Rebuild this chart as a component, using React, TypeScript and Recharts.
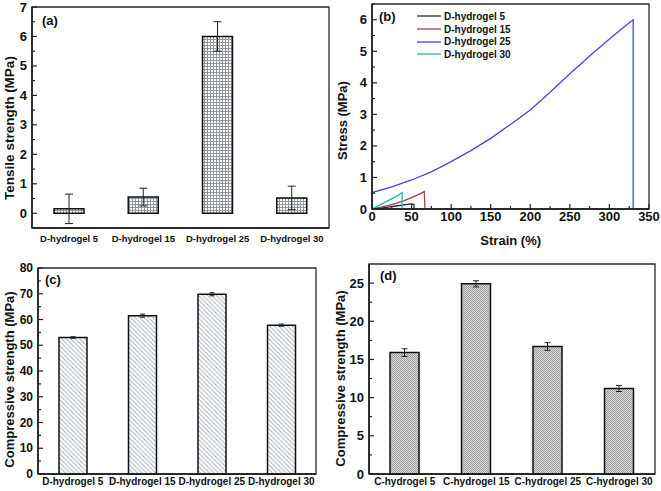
import React from 'react';
import { BarChart, Bar, LineChart, Line, XAxis, YAxis, ErrorBar, Legend, ReferenceArea } from 'recharts';

// categories
const dLabels = ['D-hydrogel 5', 'D-hydrogel 15', 'D-hydrogel 25', 'D-hydrogel 30'];
const cLabels = ['C-hydrogel 5', 'C-hydrogel 15', 'C-hydrogel 25', 'C-hydrogel 30'];

// (a) tensile strength
const tensile = [0.15, 0.55, 6.0, 0.52];
const tensileErr = [0.5, 0.3, 0.5, 0.4];
// (c) compressive strength, D-hydrogels
const compD = [53.0, 61.5, 69.8, 57.8];
const compDErr = [0.3, 0.6, 0.6, 0.4];
// (d) compressive strength, C-hydrogels
const compC = [15.9, 24.9, 16.7, 11.2];
const compCErr = [0.5, 0.4, 0.5, 0.4];

// (b) stress-strain curves
const strain5 = [0, 10, 20, 30, 40, 49, 53, 53];
const stress5 = [0, 0.03, 0.06, 0.095, 0.13, 0.16, 0.15, 0];
const strain15 = [0, 10, 20, 30, 40, 50, 60, 66, 67];
const stress15 = [0, 0.05, 0.11, 0.18, 0.26, 0.36, 0.47, 0.55, 0];
const strain25 = [0, 0, 25, 50, 75, 100, 125, 150, 175, 200, 225, 250, 275, 300, 320, 330, 330];
const stress25 = [0, 0.52, 0.7, 0.92, 1.18, 1.5, 1.85, 2.24, 2.68, 3.14, 3.7, 4.29, 4.85, 5.39, 5.8, 6.0, 0];
const strain30 = [0, 10, 20, 30, 38, 38];
const stress30 = [0, 0.13, 0.26, 0.39, 0.52, 0];

// tick values
const ticksA = [0, 0.5, 1, 1.5, 2, 2.5, 3, 3.5, 4, 4.5, 5, 5.5, 6, 6.5, 7];
const majorA = [0, 1, 2, 3, 4, 5, 6, 7];
const ticksBy = [0, 0.5, 1, 1.5, 2, 2.5, 3, 3.5, 4, 4.5, 5, 5.5, 6, 6.5];
const majorBy = [0, 1, 2, 3, 4, 5, 6];
const ticksBx = [0, 25, 50, 75, 100, 125, 150, 175, 200, 225, 250, 275, 300, 325, 350];
const majorBx = [0, 50, 100, 150, 200, 250, 300, 350];
const ticksC = [0, 5, 10, 15, 20, 25, 30, 35, 40, 45, 50, 55, 60, 65, 70, 75, 80];
const majorC = [0, 10, 20, 30, 40, 50, 60, 70, 80];
const ticksD = [0, 2.5, 5, 7.5, 10, 12.5, 15, 17.5, 20, 22.5, 25];
const majorD = [0, 5, 10, 15, 20, 25];

const zip = (xs: number[], ys: number[]) => xs.map((x, i) => ({ x, y: ys[i] }));
const bars = (names: string[], vals: number[], errs: number[]) =>
  names.map((name, i) => ({ name, value: vals[i], err: errs[i] }));

const dataA = bars(dLabels, tensile, tensileErr);
const dataC = bars(dLabels, compD, compDErr);
const dataD = bars(cLabels, compC, compCErr);

const curves = [
  { name: 'D-hydrogel 5', color: '#1e2540', data: zip(strain5, stress5) },
  { name: 'D-hydrogel 15', color: '#a3404f', data: zip(strain15, stress15) },
  { name: 'D-hydrogel 25', color: '#4545e6', data: zip(strain25, stress25) },
  { name: 'D-hydrogel 30', color: '#27b3a0', data: zip(strain30, stress30) },
];
const curveOrder = curves.map((c) => c.name);

const axisStyle = { stroke: '#1a1a1a', strokeWidth: 1.5 };
const bold = { fontWeight: 'bold' as const, fill: '#111' };

const leftTick = (major: number[], fontSize: number) => (props: any) => {
  const { x, y, payload } = props;
  const isMajor = major.includes(payload.value);
  return (
    <g>
      <line x1={x} x2={x + (isMajor ? 5 : 3)} y1={y} y2={y} stroke="#222" strokeWidth={1.2} />
      {isMajor && (
        <text x={x - 5} y={y} textAnchor="end" dominantBaseline="central" fontSize={fontSize} {...bold}>
          {payload.value}
        </text>
      )}
    </g>
  );
};

const bottomTick = (major: number[], fontSize: number) => (props: any) => {
  const { x, y, payload } = props;
  const isMajor = major.includes(payload.value);
  return (
    <g>
      <line x1={x} x2={x} y1={y} y2={y - (isMajor ? 5 : 3)} stroke="#222" strokeWidth={1.2} />
      {isMajor && (
        <text x={x} y={y + 3 + fontSize * 0.72} textAnchor="middle" fontSize={fontSize} {...bold}>
          {payload.value}
        </text>
      )}
    </g>
  );
};

const vTitle = (text: string, x: number, y: number, size: number) => (
  <text x={x} y={y} transform={`rotate(-90 ${x} ${y})`} textAnchor="middle" dominantBaseline="central" fontSize={size} {...bold}>
    {text}
  </text>
);

const panelTag = (text: string, x: number, y: number) => (
  <text x={x} y={y} fontSize={13} {...bold}>{text}</text>
);

const renderLegend = ({ payload }: any) => (
  <div>
    {(payload || []).map((p: any) => (
      <div key={p.value} style={{ display: 'flex', alignItems: 'center', height: 12.7, fontSize: 10, fontWeight: 'bold', color: '#111' }}>
        <svg width={24} height={4}>
          <line x1={0} y1={2} x2={24} y2={2} stroke={p.color} strokeWidth={1.3} />
        </svg>
        <span style={{ marginLeft: 3, whiteSpace: 'nowrap' }}>{p.value}</span>
      </div>
    ))}
  </div>
);

// plot frame drawn as a reference area spanning the whole value range
const frame = (y1: number, y2: number, x1?: number, x2?: number) => (
  <ReferenceArea x1={x1} x2={x2} y1={y1} y2={y2} fill="none" fillOpacity={0} stroke="#2a2a2a" strokeWidth={1.3}
    ifOverflow="visible" />
);

export default function App() {
  return (
    <div style={{ position: 'absolute', left: 0, top: 0, width: 661, height: 491, background: '#fff',
      fontFamily: '"Liberation Sans", Arial, sans-serif' }}>
      {/* (a) tensile strength */}
      <div style={{ position: 'absolute', left: 0, top: 0 }}>
        <BarChart width={330} height={250} data={dataA} margin={{ top: 7, right: 1, bottom: 0, left: 0 }} barSize={30}>
          <defs>
            <pattern id="gridA" patternUnits="userSpaceOnUse" width={3} height={3}>
              <rect width={3} height={3} fill="#fff" />
              <path d="M0 0.5H3M0.5 0V3" stroke="#8f959d" strokeWidth={1} />
            </pattern>
          </defs>
          {frame(-0.5, 7)}
          <XAxis dataKey="name" height={22} interval={0} tickLine={false} tickSize={0} tickMargin={7}
            axisLine={axisStyle} tick={{ fontSize: 9.5, ...bold }} />
          <YAxis width={32} type="number" domain={[-0.5, 7]} ticks={ticksA} interval={0} tickLine={false}
            tickSize={0} tickMargin={0} axisLine={axisStyle} tick={leftTick(majorA, 13)} />
          <Bar dataKey="value" fill="url(#gridA)" stroke="#111" strokeWidth={1.5} isAnimationActive={false}>
            <ErrorBar dataKey="err" width={4} stroke="#222" strokeWidth={1} isAnimationActive={false} />
          </Bar>
          {panelTag('(a)', 42, 25)}
          {vTitle('Tensile strength (MPa)', 9, 128, 13.5)}
        </BarChart>
      </div>

      {/* (b) stress-strain */}
      <div style={{ position: 'absolute', left: 330, top: 0 }}>
        <LineChart width={331} height={250} margin={{ top: 4, right: 12, bottom: 0, left: 0 }}>
          {frame(0, 6.5, 0, 350)}
          <XAxis dataKey="x" type="number" domain={[0, 350]} ticks={ticksBx} interval={0} height={41}
            tickLine={false} tickSize={0} tickMargin={0} axisLine={axisStyle} tick={bottomTick(majorBx, 13)} />
          <YAxis width={42} type="number" domain={[0, 6.5]} ticks={ticksBy} interval={0} tickLine={false}
            tickSize={0} tickMargin={0} axisLine={axisStyle} tick={leftTick(majorBy, 13)} />
          {curves.map((c) => (
            <Line key={c.name} name={c.name} data={c.data} dataKey="y" type="linear" stroke={c.color}
              strokeWidth={1.3} dot={false} isAnimationActive={false} />
          ))}
          <Legend layout="vertical" align="center" verticalAlign="middle" content={renderLegend}
            itemSorter={(item: any) => curveOrder.indexOf(item.value)}
            wrapperStyle={{ left: 87, top: 10, width: 120, height: 52 }} />
          {panelTag('(b)', 49, 21)}
          {vTitle('Stress (MPa)', 12.5, 120.5, 13)}
          <text x={180.7} y={244.5} textAnchor="middle" fontSize={13} {...bold}>Strain (%)</text>
        </LineChart>
      </div>

      {/* (c) compressive strength, D-hydrogels */}
      <div style={{ position: 'absolute', left: 0, top: 250 }}>
        <BarChart width={330} height={241} data={dataC} margin={{ top: 18, right: 14, bottom: 0, left: 0 }} barSize={28}>
          <defs>
            <pattern id="hatchC" patternUnits="userSpaceOnUse" width={4.5} height={4.5}>
              <rect width={4.5} height={4.5} fill="#fff" />
              <path d="M0 0L4.5 4.5M-1 3.5L1 5.5M3.5 -1L5.5 1" stroke="#a6b1bc" strokeWidth={1} />
            </pattern>
          </defs>
          {frame(0, 80)}
          <XAxis dataKey="name" height={17} interval={0} tickLine={false} tickSize={0} tickMargin={4}
            axisLine={axisStyle} tick={{ fontSize: 10, ...bold }} />
          <YAxis width={38} type="number" domain={[0, 80]} ticks={ticksC} interval={0} tickLine={false}
            tickSize={0} tickMargin={0} axisLine={axisStyle} tick={leftTick(majorC, 12)} />
          <Bar dataKey="value" fill="url(#hatchC)" stroke="#111" strokeWidth={1.5} isAnimationActive={false}>
            <ErrorBar dataKey="err" width={2.5} stroke="#222" strokeWidth={1} isAnimationActive={false} />
          </Bar>
          {panelTag('(c)', 45, 34)}
          {vTitle('Compressive strength (MPa)', 9, 129.5, 13)}
        </BarChart>
      </div>

      {/* (d) compressive strength, C-hydrogels */}
      <div style={{ position: 'absolute', left: 330, top: 250 }}>
        <BarChart width={331} height={241} data={dataD} margin={{ top: 14, right: 6, bottom: 0, left: 0 }} barSize={29}>
          <defs>
            <pattern id="dotD" patternUnits="userSpaceOnUse" width={2} height={2}>
              <rect width={2} height={2} fill="#dadada" />
              <rect width={1} height={1} fill="#9c9c9c" />
              <rect x={1} y={1} width={1} height={1} fill="#9c9c9c" />
            </pattern>
          </defs>
          {frame(0, 27.5)}
          <XAxis dataKey="name" height={17} interval={0} tickLine={false} tickSize={0} tickMargin={4}
            axisLine={axisStyle} tick={{ fontSize: 10, ...bold }} />
          <YAxis width={39} type="number" domain={[0, 27.5]} ticks={ticksD} interval={0} tickLine={false}
            tickSize={0} tickMargin={0} axisLine={axisStyle} tick={leftTick(majorD, 13)} />
          <Bar dataKey="value" fill="url(#dotD)" stroke="#111" strokeWidth={1.5} isAnimationActive={false}>
            <ErrorBar dataKey="err" width={3} stroke="#222" strokeWidth={1} isAnimationActive={false} />
          </Bar>
          {panelTag('(d)', 50, 30)}
          {vTitle('Compressive strength (MPa)', 10.5, 128.5, 13)}
        </BarChart>
      </div>
    </div>
  );
}
